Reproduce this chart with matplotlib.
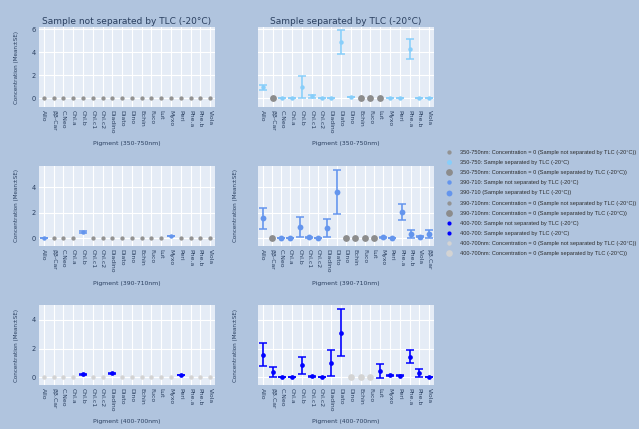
import matplotlib.pyplot as plt
from matplotlib.lines import Line2D

plt.rcParams['font.family'] = 'DejaVu Sans'

# pigment categories shown on the x axes
pigments = ['Allo', 'ββ-Car', 'C.Neo', 'Chl.a', 'Chl.b', 'Chl.c1', 'Chl.c2', 'Diadino', 'Diato',
            'Dino', 'Echin', 'Fuco', 'Lut', 'Myxo', 'Peri', 'Phe.a', 'Phe.b', 'Viola']
pigments_dot = ['Allo', 'ββ.Car', 'C.Neo', 'Chl.a', 'Chl.b', 'Chl.c1', 'Chl.c2', 'Diadino', 'Diato',
                'Dino', 'Echin', 'Fuco', 'Lut', 'Myxo', 'Peri', 'Phe.a', 'Phe.b', 'Viola']
pigments_390_sep = pigments + ['ββ.Car']

# 350-750 nm
zero_350_not = pigments
sep_350 = ['Allo', 'C.Neo', 'Chl.a', 'Chl.b', 'Chl.c1', 'Chl.c2', 'Diadino', 'Diato', 'Dino',
           'Myxo', 'Peri', 'Phe.a', 'Phe.b', 'Viola']
sep_350_mean = [0.95, 0.02, 0.02, 0.97, 0.17, 0.02, 0.03, 4.9, 0.08, 0.02, 0.02, 4.3, 0.03, 0.02]
sep_350_se = [0.25, 0.0, 0.0, 0.95, 0.12, 0.0, 0.0, 1.05, 0.0, 0.0, 0.0, 0.9, 0.0, 0.0]
zero_350_sep = ['ββ-Car', 'Echin', 'Fuco', 'Lut']

# 390-710 nm
not_390 = ['Allo', 'Chl.b', 'Myxo']
not_390_mean = [0.0, 0.5, 0.18]
not_390_se = [0.0, 0.08, 0.03]
zero_390_not = ['ββ-Car', 'C.Neo', 'Chl.a', 'Chl.c1', 'Chl.c2', 'Diadino', 'Diato', 'Dino',
                'Echin', 'Fuco', 'Lut', 'Peri', 'Phe.a', 'Phe.b', 'Viola']
sep_390 = ['Allo', 'C.Neo', 'Chl.a', 'Chl.b', 'Chl.c1', 'Chl.c2', 'Diadino', 'Diato', 'Myxo',
           'Peri', 'Phe.a', 'Phe.b', 'Viola', 'ββ.Car']
sep_390_mean = [1.55, 0.02, 0.0, 0.87, 0.08, 0.0, 0.8, 3.63, 0.1, 0.0, 2.05, 0.35, 0.12, 0.34]
sep_390_se = [0.82, 0.0, 0.0, 0.8, 0.04, 0.0, 0.7, 1.7, 0.04, 0.0, 0.6, 0.33, 0.04, 0.33]
zero_390_sep = ['ββ-Car', 'Dino', 'Echin', 'Fuco', 'Lut']

# 400-700 nm
not_400 = ['Chl.b', 'Diadino', 'Peri']
not_400_mean = [0.2, 0.27, 0.16]
not_400_se = [0.02, 0.02, 0.02]
zero_400_not = ['Allo', 'ββ.Car', 'C.Neo', 'Chl.a', 'Chl.c1', 'Chl.c2', 'Diato', 'Dino', 'Echin',
                'Fuco', 'Lut', 'Myxo', 'Phe.a', 'Phe.b', 'Viola']
sep_400 = ['Allo', 'ββ.Car', 'C.Neo', 'Chl.a', 'Chl.b', 'Chl.c1', 'Chl.c2', 'Diadino', 'Diato',
           'Lut', 'Myxo', 'Peri', 'Phe.a', 'Phe.b', 'Viola']
sep_400_mean = [1.58, 0.38, 0.02, 0.0, 0.82, 0.07, 0.02, 0.99, 3.1, 0.45, 0.12, 0.1, 1.43, 0.3, 0.0]
sep_400_se = [0.78, 0.36, 0.0, 0.0, 0.59, 0.03, 0.0, 0.9, 1.65, 0.48, 0.06, 0.03, 0.47, 0.3, 0.0]
zero_400_sep = ['Dino', 'Echin', 'Fuco']

BG = '#b0c4de'
PLOT_BG = '#e5ecf6'
TXT = '#2a3f5f'

fig = plt.figure(figsize=(6.39, 4.29), dpi=100, facecolor=BG)
W, H = 639.0, 429.0


def make_axes(left_px, top_px):
    return fig.add_axes([left_px / W, 1 - (top_px + 80) / H, 176 / W, 80 / H])


def style_axes(ax, cats, ylim, yticks, show_y):
    ax.set_facecolor(PLOT_BG)
    ax.set_xlim(-0.5, len(cats) - 0.5)
    ax.set_ylim(*ylim)
    ax.set_xticks(range(len(cats)))
    ax.set_xticklabels(cats, rotation=-90, fontsize=4.4, color=TXT, va='top', ha='center')
    ax.set_yticks(yticks)
    ax.set_yticklabels([str(t) for t in yticks] if show_y else [], fontsize=4.8, color=TXT)
    ax.tick_params(length=0, pad=2.5)
    ax.grid(color='white', lw=0.8)
    ax.set_axisbelow(True)
    for s in ax.spines.values():
        s.set_visible(False)


def zeros(ax, cats, names, style):
    x = [cats.index(n) for n in names]
    ax.plot(x, [0] * len(x), ls='none', marker='o', mec='none', zorder=3, **style)


def points(ax, cats, names, mean, se, style):
    x = [cats.index(n) for n in names]
    ax.errorbar(x, mean, yerr=se, ls='none', marker='o', mec='none', elinewidth=1.2,
                capsize=3.2, capthick=1.1, ecolor=style['color'], zorder=3, **style)


gray_small = dict(color='#939393', ms=3.1)
gray_big = dict(color='#8c8c8c', ms=4.9)
sky = dict(color='#87cefa', ms=3.2)
corn_small = dict(color='#6495ed', ms=3.2)
corn_big = dict(color='#6495ed', ms=4.2)
blue_small = dict(color='#0000ff', ms=3.4)
blue_sep = dict(color='#0000ff', ms=3.4)
lgray_small = dict(color='#d3d3d3', ms=3.2)
lgray_big = dict(color='#d3d3d3', ms=4.8)

rows = [(27, (-0.75, 6.2), [0, 2, 4, 6], 'Pigment (350-750nm)'),
        (166, (-0.6, 5.65), [0, 2, 4], 'Pigment (390-710nm)'),
        (305, (-0.55, 5.05), [0, 2, 4], 'Pigment (400-700nm)')]
col_left = [39, 258]

axes = []
for r, (top, ylim, yt, xlab) in enumerate(rows):
    pair = []
    for c, lx in enumerate(col_left):
        ax = make_axes(lx, top)
        pair.append(ax)
        fig.text((lx + 88) / W, 1 - (top + 117) / H, xlab, ha='center', va='center',
                 fontsize=4.4, color=TXT)
        if r > 0 or c == 0:
            fig.text((lx - 22) / W, 1 - (top + 40) / H, 'Concentration (Mean±SE)', rotation=90,
                     ha='center', va='center', fontsize=4.1, color=TXT)
    axes.append(pair)

# row 1: 350-750 nm
ax = axes[0][0]
style_axes(ax, pigments, rows[0][1], rows[0][2], True)
zeros(ax, pigments, zero_350_not, gray_small)
ax = axes[0][1]
style_axes(ax, pigments, rows[0][1], rows[0][2], False)
points(ax, pigments, sep_350, sep_350_mean, sep_350_se, sky)
zeros(ax, pigments, zero_350_sep, gray_big)

# row 2: 390-710 nm
ax = axes[1][0]
style_axes(ax, pigments, rows[1][1], rows[1][2], True)
points(ax, pigments, not_390, not_390_mean, not_390_se, corn_small)
zeros(ax, pigments, zero_390_not, gray_small)
ax = axes[1][1]
style_axes(ax, pigments_390_sep, rows[1][1], rows[1][2], False)
points(ax, pigments_390_sep, sep_390, sep_390_mean, sep_390_se, corn_big)
zeros(ax, pigments_390_sep, zero_390_sep, gray_big)

# row 3: 400-700 nm
ax = axes[2][0]
style_axes(ax, pigments_dot, rows[2][1], rows[2][2], True)
points(ax, pigments_dot, not_400, not_400_mean, not_400_se, blue_small)
zeros(ax, pigments_dot, zero_400_not, lgray_small)
ax = axes[2][1]
style_axes(ax, pigments_dot, rows[2][1], rows[2][2], False)
points(ax, pigments_dot, sep_400, sep_400_mean, sep_400_se, blue_sep)
zeros(ax, pigments_dot, zero_400_sep, lgray_big)

fig.text((39 + 88) / W, 1 - 21 / H, 'Sample not separated by TLC (-20°C)', ha='center',
         va='center', fontsize=6.5, color=TXT)
fig.text((258 + 88) / W, 1 - 21 / H, 'Sample separated by TLC (-20°C)', ha='center',
         va='center', fontsize=6.5, color=TXT)

legend_items = [
    (gray_small, '350-750nm: Concentration = 0 (Sample not separated by TLC (-20°C))'),
    (dict(sky, ms=3.6), '350-750: Sample separated by TLC (-20°C)'),
    (gray_big, '350-750nm: Concentration = 0 (Sample separated by TLC (-20°C))'),
    (corn_small, '390-710: Sample not separated by TLC (-20°C)'),
    (corn_big, '390-710 (Sample separated by TLC (-20°C))'),
    (gray_small, '390-710nm: Concentration = 0 (Sample not separated by TLC (-20°C))'),
    (gray_big, '390-710nm: Concentration = 0 (Sample separated by TLC (-20°C))'),
    (dict(blue_small, ms=3.0), '400-700: Sample not separated by TLC (-20°C)'),
    (dict(blue_sep, ms=3.0), '400-700: Sample separated by TLC (-20°C)'),
    (lgray_small, '400-700nm: Concentration = 0 (Sample not separated by TLC (-20°C))'),
    (lgray_big, '400-700nm: Concentration = 0 (Sample separated by TLC (-20°C))'),
]
handles = [Line2D([], [], ls='none', marker='o', mec='none', **st) for st, _ in legend_items]
labels = [lab for _, lab in legend_items]
fig.legend(handles, labels, loc='upper left', bbox_to_anchor=(446 / W, 1 - 150 / H),
           frameon=False, prop={'family': 'Liberation Sans', 'size': 4.1}, labelcolor='#2b2b2b',
           handlelength=1.0, handletextpad=1.45, labelspacing=0.9, borderaxespad=0,
           borderpad=0)

fig.savefig('out.png', dpi=100, facecolor=BG)
